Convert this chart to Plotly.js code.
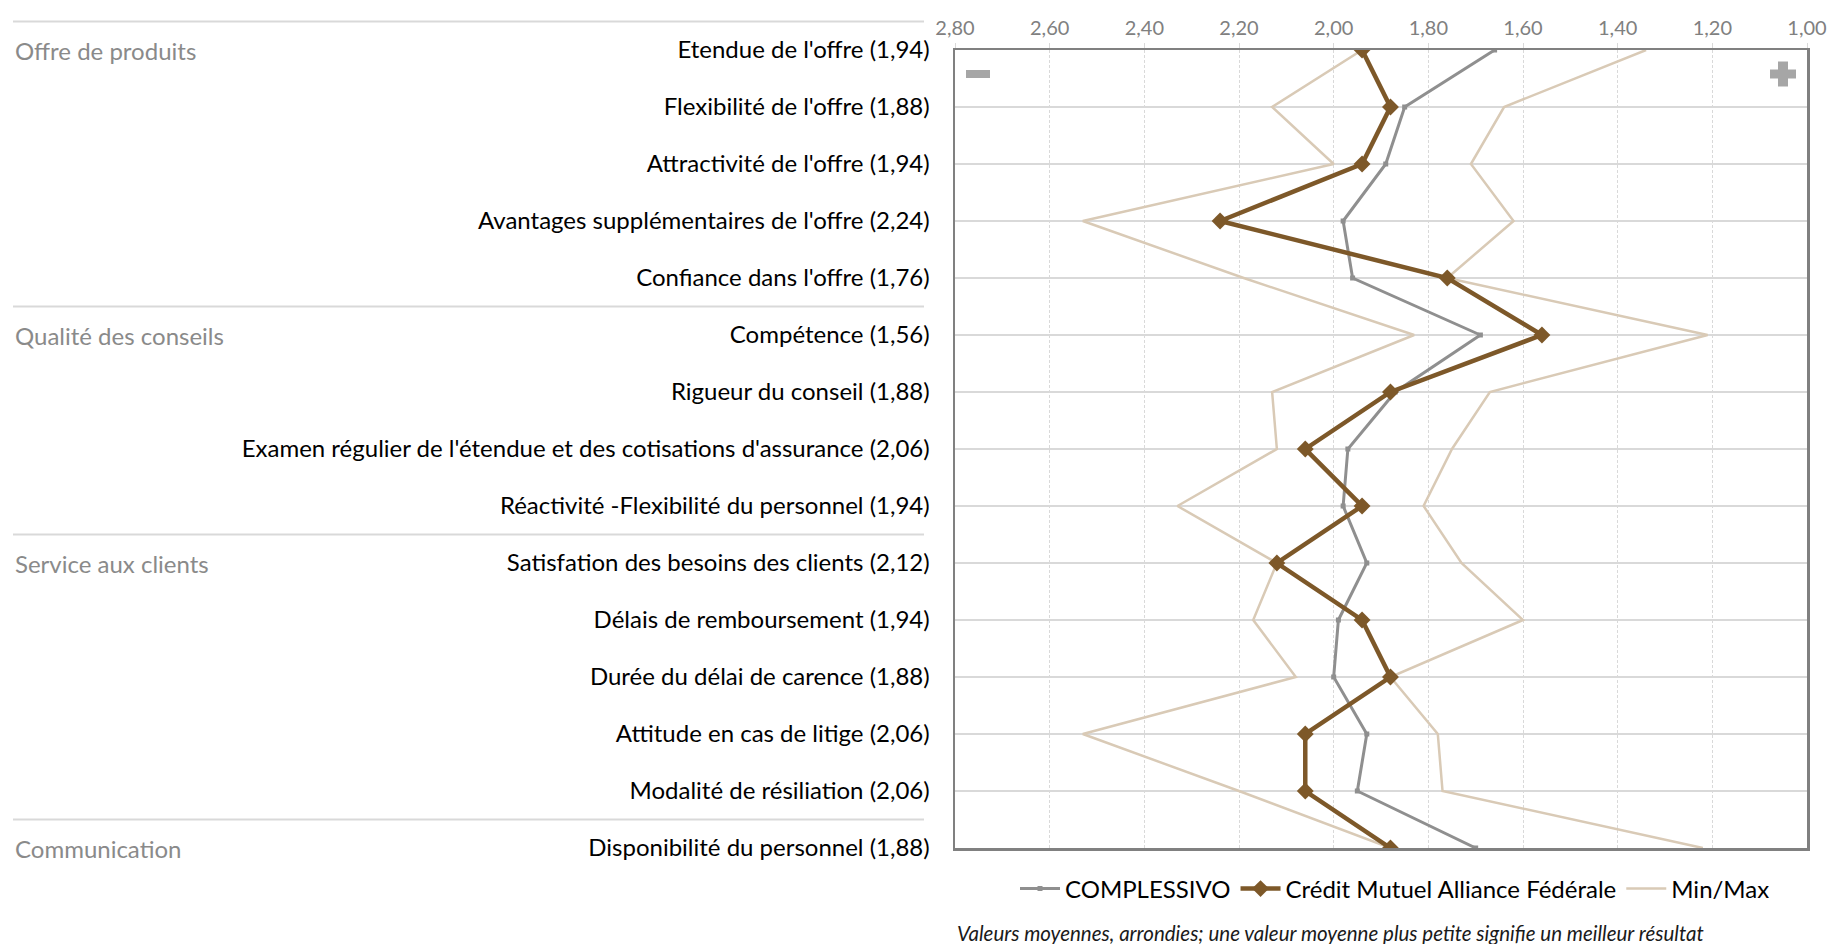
<!DOCTYPE html>
<html>
<head>
<meta charset="utf-8">
<script src="https://cdn.plot.ly/plotly-3.0.1.min.js"></script>
<style>
  html, body { margin: 0; padding: 0; background: #fff; }
  #chart { width: 1829px; height: 944px; }
</style>
</head>
<body>
<div id="chart"></div>
<script>
// categories (top to bottom)
var categories = [
  "Etendue de l'offre",
  "Flexibilité de l'offre",
  "Attractivité de l'offre",
  "Avantages supplémentaires de l'offre",
  "Confiance dans l'offre",
  "Compétence",
  "Rigueur du conseil",
  "Examen régulier de l'étendue et des cotisations d'assurance",
  "Réactivité -Flexibilité du personnel",
  "Satisfation des besoins des clients",
  "Délais de remboursement",
  "Durée du délai de carence",
  "Attitude en cas de litige",
  "Modalité de résiliation",
  "Disponibilité du personnel"
];

// groups: name + index of first category
var groupNames = ["Offre de produits", "Qualité des conseils", "Service aux clients", "Communication"];
var groupStart = [0, 5, 9, 14];

// series values
var cmaf = [1.94, 1.88, 1.94, 2.24, 1.76, 1.56, 1.88, 2.06, 1.94, 2.12, 1.94, 1.88, 2.06, 2.06, 1.88];
var complessivo = [1.66, 1.85, 1.89, 1.98, 1.96, 1.69, 1.87, 1.97, 1.98, 1.93, 1.99, 2.00, 1.93, 1.95, 1.70];
var maxVals = [1.94, 2.13, 2.00, 2.53, 2.19, 1.83, 2.13, 2.12, 2.33, 2.12, 2.17, 2.08, 2.53, 2.20, 1.88];
var minVals = [1.34, 1.64, 1.71, 1.62, 1.76, 1.21, 1.67, 1.75, 1.81, 1.73, 1.60, 1.88, 1.78, 1.77, 1.22];

var xTicks = [2.8, 2.6, 2.4, 2.2, 2.0, 1.8, 1.6, 1.4, 1.2, 1.0];

var FONT = "Lato, 'Open Sans', sans-serif";
var W = 1829, H = 944;
var plotL = 955, plotR = 1807, plotT = 50, plotB = 848;
var n = categories.length;

function px2x(p) { return (p - plotL) / (plotR - plotL); }
function px2y(p) { return 1 - (p - plotT) / (plotB - plotT); }
function idx2y(i) { return 1 - i / (n - 1); }

var idx = categories.map(function(c, i) { return i; });
var labels = categories.map(function(c, i) {
  return c + " (" + cmaf[i].toFixed(2).replace('.', ',') + ")";
});

var traceMax = {
  x: maxVals, y: idx, type: 'scatter', mode: 'lines',
  name: 'Min/Max', legendrank: 3,
  line: {color: '#d9cab6', width: 2.5}
};
var traceMin = {
  x: minVals, y: idx, type: 'scatter', mode: 'lines',
  name: 'Min/Max', showlegend: false,
  line: {color: '#d9cab6', width: 2.5}
};
var traceTot = {
  x: complessivo, y: idx, type: 'scatter', mode: 'lines+markers',
  name: 'COMPLESSIVO', legendrank: 1,
  line: {color: '#8f8f8f', width: 3},
  marker: {symbol: 'square', size: 5, color: '#8f8f8f'}
};
var traceCm = {
  x: cmaf, y: idx, type: 'scatter', mode: 'lines+markers',
  name: 'Crédit Mutuel Alliance Fédérale', legendrank: 2,
  line: {color: '#7d5829', width: 4.5},
  marker: {symbol: 'diamond', size: 13, color: '#7d5829'}
};

var shapes = [];
// group separators on the left
groupStart.forEach(function(g) {
  var yy = idx2y(g - 0.5);
  shapes.push({
    type: 'line', xref: 'paper', yref: 'paper',
    x0: px2x(13), x1: px2x(924), y0: yy, y1: yy,
    line: {color: '#d9d9d9', width: 2}
  });
});
// minus sign
shapes.push({
  type: 'rect', xref: 'paper', yref: 'paper',
  x0: px2x(966), x1: px2x(990), y0: px2y(78), y1: px2y(70),
  fillcolor: '#a6a6a6', line: {width: 0}
});
// plus sign
shapes.push({
  type: 'rect', xref: 'paper', yref: 'paper',
  x0: px2x(1770), x1: px2x(1796), y0: px2y(78.5), y1: px2y(69.5),
  fillcolor: '#a6a6a6', line: {width: 0}
});
shapes.push({
  type: 'rect', xref: 'paper', yref: 'paper',
  x0: px2x(1778), x1: px2x(1788), y0: px2y(86.5), y1: px2y(61.5),
  fillcolor: '#a6a6a6', line: {width: 0}
});

var annotations = groupNames.map(function(g, k) {
  return {
    text: g, xref: 'paper', yref: 'paper',
    x: px2x(13), y: idx2y(groupStart[k]),
    xanchor: 'left', yanchor: 'middle', showarrow: false,
    font: {family: FONT, size: 24, color: '#8a8a8a'}
  };
});
annotations.push({
  text: 'Valeurs moyennes, arrondies; une valeur moyenne plus petite signifie un meilleur résultat',
  xref: 'paper', yref: 'paper', x: 0, y: px2y(933),
  xanchor: 'left', yanchor: 'middle', showarrow: false,
  font: {family: FONT, size: 20.5, color: '#1a1a1a', style: 'italic'}
});

var layout = {
  width: W, height: H,
  margin: {l: plotL, r: W - plotR, t: plotT, b: H - plotB},
  paper_bgcolor: '#fff', plot_bgcolor: '#fff',
  separators: ',.',
  font: {family: FONT, size: 20, color: '#000'},
  showlegend: true,
  legend: {
    orientation: 'h', x: px2x(1395), xanchor: 'center', y: px2y(889), yanchor: 'middle',
    font: {family: FONT, size: 24, color: '#000'},
    itemwidth: 40, traceorder: 'normal'
  },
  xaxis: {
    side: 'top', range: [2.8, 1.0], tickvals: xTicks, tickformat: '.2f',
    showgrid: true, gridcolor: '#d9d9d9', gridwidth: 1, griddash: '3px,2px',
    showline: true, mirror: true, linecolor: '#808080', linewidth: 2.5,
    ticks: 'outside', ticklen: 5, tickcolor: '#d9d9d9',
    tickfont: {family: FONT, size: 20, color: '#808080'},
    zeroline: false, fixedrange: true
  },
  yaxis: {
    range: [n - 1, 0], tickvals: idx, ticktext: labels,
    showgrid: true, gridcolor: '#d9d9d9', gridwidth: 2,
    showline: true, mirror: true, linecolor: '#808080', linewidth: 2.5,
    ticks: '', ticklabelstandoff: 18,
    tickfont: {family: FONT, size: 24, color: '#000'},
    zeroline: false, fixedrange: true
  },
  shapes: shapes,
  annotations: annotations
};

Plotly.newPlot('chart', [traceMax, traceMin, traceTot, traceCm], layout, {displayModeBar: false, staticPlot: true});
</script>
</body>
</html>
